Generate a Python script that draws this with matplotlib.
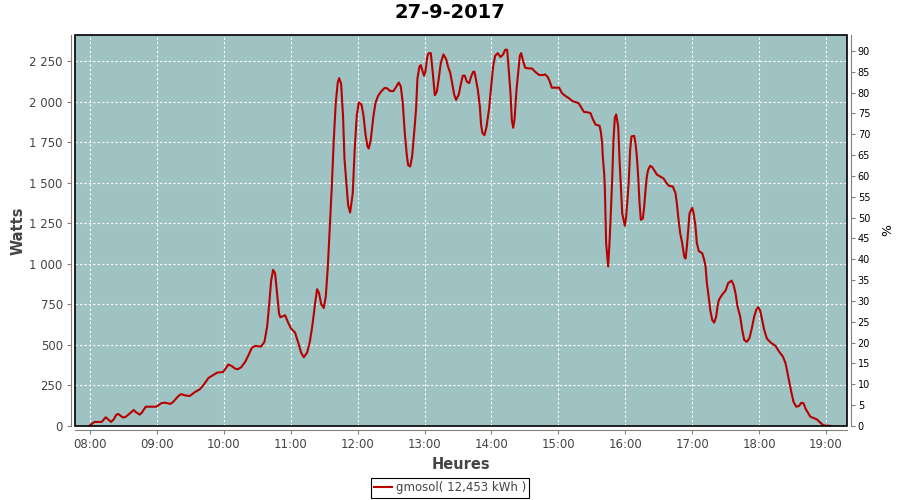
import matplotlib
matplotlib.use("Agg")
import matplotlib.pyplot as plt
from matplotlib.ticker import FuncFormatter, MultipleLocator
from matplotlib.patches import Rectangle

titre = "27-9-2017"
serie = "gmosol( 12,453 kWh )"

# heure decimale / puissance en W
heures = [7.985, 8.065, 8.174, 8.234, 8.314, 8.354, 8.394, 8.424, 8.484, 8.523,
          8.573, 8.653, 8.683, 8.743, 8.773, 8.832, 8.902, 8.992, 9.062, 9.121,
          9.201, 9.241, 9.321, 9.361, 9.420, 9.490, 9.570, 9.640, 9.700, 9.769,
          9.819, 9.899, 9.989,
          10.068, 10.118, 10.168, 10.208, 10.258, 10.318, 10.368, 10.417, 10.467, 10.557,
          10.607, 10.647, 10.677, 10.706, 10.736, 10.766, 10.796, 10.826, 10.846, 10.916,
          10.965, 11.005, 11.065, 11.115, 11.155, 11.195, 11.245, 11.285, 11.324, 11.364,
          11.394, 11.424, 11.454, 11.494, 11.524, 11.554, 11.584, 11.614, 11.643, 11.673,
          11.703, 11.723, 11.753, 11.783, 11.803,
          11.828, 11.858, 11.888, 11.927, 11.957, 11.987, 12.017, 12.057, 12.087, 12.117,
          12.147, 12.167, 12.196, 12.236, 12.266, 12.306, 12.356, 12.406, 12.446, 12.486,
          12.535, 12.575, 12.615, 12.645, 12.675, 12.705, 12.735, 12.755, 12.785, 12.815,
          12.845, 12.874, 12.894, 12.924, 12.944, 12.974, 12.994, 13.014, 13.044, 13.064,
          13.094, 13.124, 13.154, 13.184, 13.213, 13.243, 13.283, 13.323, 13.353, 13.383,
          13.413, 13.443, 13.472, 13.512, 13.542, 13.572, 13.602, 13.632,
          13.667, 13.697, 13.727, 13.747, 13.767, 13.797, 13.827, 13.846, 13.866, 13.896,
          13.926, 13.966, 13.996, 14.026, 14.056, 14.095, 14.135, 14.175, 14.205, 14.235,
          14.255, 14.285, 14.305, 14.325, 14.345, 14.375, 14.405, 14.425, 14.445, 14.474,
          14.504, 14.554, 14.604, 14.654, 14.714, 14.773, 14.803, 14.843, 14.873, 14.903,
          14.983, 15.013, 15.053, 15.102, 15.162, 15.212, 15.302, 15.352, 15.382, 15.451,
          15.481,
          15.516, 15.556, 15.616, 15.636, 15.655, 15.665, 15.685, 15.695, 15.705, 15.715,
          15.745, 15.765, 15.785, 15.805, 15.825, 15.845, 15.865, 15.895, 15.915, 15.935,
          15.955, 15.994, 16.014, 16.034, 16.054, 16.074, 16.094, 16.134, 16.154, 16.174,
          16.194, 16.214, 16.234, 16.264, 16.284, 16.304, 16.323, 16.343, 16.373, 16.403,
          16.443, 16.473, 16.523, 16.573, 16.612, 16.652, 16.712, 16.752, 16.772, 16.792,
          16.822, 16.852, 16.882, 16.902, 16.922, 16.942, 16.962, 17.002, 17.022, 17.051,
          17.071, 17.101, 17.151, 17.181,
          17.201, 17.221, 17.241, 17.271, 17.301, 17.330, 17.360, 17.380, 17.400, 17.450,
          17.500, 17.539, 17.589, 17.619, 17.649, 17.679, 17.719, 17.749, 17.779, 17.818,
          17.858, 17.898, 17.928, 17.958, 17.988, 18.018, 18.048, 18.078, 18.118, 18.177,
          18.247, 18.297, 18.357, 18.397, 18.427, 18.457, 18.487, 18.517, 18.556, 18.596,
          18.636, 18.666, 18.696, 18.726, 18.766, 18.816, 18.865, 18.915, 18.965, 19.085]

watts = [0, 25, 25, 54, 25, 41, 70, 74, 54, 54,
         70, 99, 86, 70, 82, 119, 119, 119, 140, 144,
         136, 148, 185, 197, 189, 185, 210, 226, 255, 296,
         309, 329, 333,
         379, 370, 354, 350, 362, 395, 436, 481, 494, 490,
         519, 613, 745, 893, 963, 942, 819, 691, 671, 683,
         634, 601, 576, 510, 453, 424, 453, 519, 621, 757,
         844, 819, 753, 728, 798, 979, 1230, 1477, 1761, 1992,
         2119, 2146, 2111, 1901, 1650,
         1519, 1362, 1317, 1436, 1712, 1914, 1996, 1984, 1918, 1802,
         1724, 1712, 1765, 1910, 1992, 2037, 2066, 2086, 2082, 2066,
         2066, 2091, 2119, 2095, 1992, 1807, 1671, 1609, 1601, 1663,
         1807, 1959, 2144, 2218, 2226, 2185, 2161, 2189, 2284, 2300,
         2300, 2177, 2041, 2062, 2144, 2239, 2292, 2263, 2214, 2181,
         2115, 2045, 2012, 2045, 2107, 2161, 2161, 2124,
         2115, 2156, 2185, 2185, 2140, 2074, 1971, 1856, 1807, 1794,
         1844, 1959, 2095, 2218, 2284, 2300, 2276, 2292, 2321, 2321,
         2218, 2054, 1889, 1840, 1889, 2074, 2198, 2284, 2300, 2251,
         2210, 2206, 2206, 2185, 2165, 2165, 2169, 2152, 2124, 2087,
         2087, 2087, 2054, 2037, 2021, 2004, 1992, 1959, 1938, 1934,
         1930,
         1893, 1860, 1852, 1815, 1745, 1663, 1560, 1477, 1292, 1128,
         984, 1128, 1313, 1519, 1765, 1901, 1922, 1848, 1642, 1477,
         1313, 1235, 1292, 1395, 1519, 1704, 1786, 1790, 1745, 1663,
         1539, 1375, 1272, 1280, 1354, 1457, 1539, 1580, 1605, 1597,
         1572, 1551, 1539, 1527, 1502, 1482, 1477, 1436, 1375, 1292,
         1189, 1128, 1045, 1033, 1107, 1210, 1313, 1346, 1313, 1230,
         1128, 1078, 1066, 1025,
         984, 881, 819, 716, 654, 638, 675, 737, 778, 811,
         835, 881, 897, 872, 819, 737, 675, 593, 531, 519,
         543, 613, 675, 716, 733, 712, 654, 593, 539, 514,
         494, 461, 428, 387, 325, 263, 202, 148, 119, 123,
         144, 140, 107, 86, 58, 49, 41, 21, 4, 0]

heures_ticks = list(range(8, 20))
pct_ticks = list(range(0, 95, 5))

fond = "#9ec3c2"
rouge = "#b80000"
gris = "#808080"

fig = plt.figure(figsize=(9, 5), dpi=100)
ax = fig.add_axes([0.0837, 0.148, 0.857, 0.782])
ax.set_facecolor(fond)

ax.plot(heures, watts, color=rouge, lw=1.5, label=serie)

ax.set_xlim(7.78, 19.31)
ax.set_ylim(0, 2412)
ax.set_xticks(heures_ticks)
ax.set_xticklabels(["%02d:00" % h for h in heures_ticks])
ax.yaxis.set_major_locator(MultipleLocator(250))
ax.yaxis.set_major_formatter(FuncFormatter(lambda v, p: f"{int(v):,}".replace(",", " ")))
ax.grid(True, color="white", ls=(0, (2, 2)), lw=0.8)

for s in ["top", "right"]:
    ax.spines[s].set_visible(False)
for s in ["left", "bottom"]:
    ax.spines[s].set_position(("outward", 3))
    ax.spines[s].set_color(gris)
ax.add_patch(Rectangle((0, 0), 1, 1, transform=ax.transAxes, fill=False,
                       edgecolor="black", lw=1.2, clip_on=False, zorder=5))
ax.tick_params(direction="out", length=3, color=gris, labelsize=8.5,
               labelcolor="#444444", pad=3)

ax.set_ylabel("Watts", fontsize=10.5, fontweight="bold", color="#444444", labelpad=3)
ax.set_xlabel("Heures", fontsize=10.5, fontweight="bold", color="#444444", labelpad=4)
fig.suptitle(titre, x=0.5, y=0.995, fontsize=14, fontweight="bold")

ax2 = ax.twinx()
ax2.set_ylim(0, 93.8)
ax2.set_yticks(pct_ticks)
for s in ["top", "left", "bottom"]:
    ax2.spines[s].set_visible(False)
ax2.spines["right"].set_position(("outward", 3))
ax2.spines["right"].set_color(gris)
ax2.tick_params(direction="out", length=3, color=gris, labelsize=7, pad=2)
ax2.set_ylabel("%", fontsize=9, labelpad=8)

leg = fig.legend(loc="center", bbox_to_anchor=(0.5, 0.024), fontsize=8.5,
                 fancybox=False, edgecolor="black", framealpha=1,
                 handlelength=1.5, handletextpad=0.3, borderpad=0.3,
                 borderaxespad=0)
leg.get_frame().set_linewidth(0.8)
for t in leg.get_texts():
    t.set_color("#444444")

fig.savefig("out.png", dpi=100)
